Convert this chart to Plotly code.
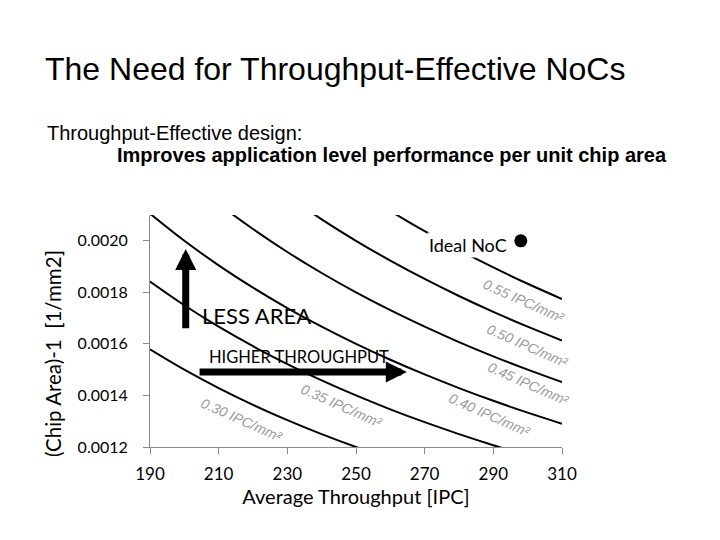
import plotly.graph_objects as go

# ---- data ----
x_grid = [190, 200, 210, 220, 230, 240, 250, 260, 270, 280, 290, 300, 310]
levels = ["0.30", "0.35", "0.40", "0.45", "0.50", "0.55"]
curve_030 = [0.0015789, 0.0015000, 0.0014286, 0.0013636, 0.0013043, 0.0012500, 0.0012000, 0.0011538, None, None, None, None, None]
curve_035 = [0.0018421, 0.0017500, 0.0016667, 0.0015909, 0.0015217, 0.0014583, 0.0014000, 0.0013462, 0.0012963, 0.0012500, 0.0012069, 0.0011667, None]
curve_040 = [0.0021053, 0.0020000, 0.0019048, 0.0018182, 0.0017391, 0.0016667, 0.0016000, 0.0015385, 0.0014815, 0.0014286, 0.0013793, 0.0013333, 0.0012903]
curve_045 = [0.0023684, 0.0022500, 0.0021429, 0.0020455, 0.0019565, 0.0018750, 0.0018000, 0.0017308, 0.0016667, 0.0016071, 0.0015517, 0.0015000, 0.0014516]
curve_050 = [0.0026316, 0.0025000, 0.0023810, 0.0022727, 0.0021739, 0.0020833, 0.0020000, 0.0019231, 0.0018519, 0.0017857, 0.0017241, 0.0016667, 0.0016129]
curve_055 = [0.0028947, 0.0027500, 0.0026190, 0.0025000, 0.0023913, 0.0022917, 0.0022000, 0.0021154, 0.0020370, 0.0019643, 0.0018966, 0.0018333, 0.0017742]
curves = [curve_030, curve_035, curve_040, curve_045, curve_050, curve_055]

# label positions for each iso-line (x, y)
label_x = [216.8, 245.9, 289.0, 300.4, 300.1, 298.9]
label_y = [0.001304, 0.001359, 0.001324, 0.001445, 0.001593, 0.001765]

ideal_x = [298]
ideal_y = [0.0020]

x_ticks = [190, 210, 230, 250, 270, 290, 310]
y_ticks = [0.0012, 0.0014, 0.0016, 0.0018, 0.0020]
y_tick_text = ["0.0012", "0.0014", "0.0016", "0.0018", "0.0020"]

# ---- layout geometry (page has an 8px body offset) ----
OFF = 8
W, H = 720, 540
PW, PH = 412, 232
L, T = 150 - OFF, 215 - OFF
R, B = W - L - PW, H - T - PH

def px(xp):
    return (xp - OFF - L) / PW

def py(yp):
    return (T + PH - (yp - OFF)) / PH

fig = go.Figure()
for c in curves:
    fig.add_trace(go.Scatter(x=x_grid, y=c, mode="lines", line=dict(color="black", width=2, shape="spline"),
                             hoverinfo="skip", showlegend=False, connectgaps=False))

fig.add_trace(go.Scatter(x=ideal_x, y=ideal_y, mode="markers", marker=dict(color="black", size=13),
                         showlegend=False))

ann = []
for lx, ly, lv in zip(label_x, label_y, levels):
    ann.append(dict(x=lx, y=ly, xref="x", yref="y", text=f"{lv} IPC/mm²", showarrow=False,
                    textangle=24, font=dict(family="Liberation Sans", size=14, color="#999999", style="italic"),
                    xanchor="center", yanchor="middle"))

ann.append(dict(x=270.7, y=0.001983, xref="x", yref="y", text="Ideal NoC", showarrow=False,
                xanchor="left", yanchor="middle", bgcolor="white",
                font=dict(family="Lato", size=18, color="black")))
ann.append(dict(x=204.6, y=0.001712, xref="x", yref="y", text="LESS AREA", showarrow=False,
                xanchor="left", yanchor="middle", font=dict(family="Lato", size=22, color="black")))
ann.append(dict(x=206.5, y=0.001548, xref="x", yref="y", text="HIGHER THROUGHPUT", showarrow=False,
                xanchor="left", yanchor="middle", font=dict(family="Lato", size=16.5, color="black")))

# arrows
ann.append(dict(x=264.8, y=0.001491, ax=204.0, ay=0.001491, xref="x", yref="y", axref="x", ayref="y",
                text="", showarrow=True, arrowhead=2, arrowsize=0.6, arrowwidth=7, arrowcolor="black"))
ann.append(dict(x=200.4, y=0.001968, ax=200.4, ay=0.001655, xref="x", yref="y", axref="x", ayref="y",
                text="", showarrow=True, arrowhead=2, arrowsize=0.6, arrowwidth=7, arrowcolor="black"))

# titles
ann.append(dict(x=px(43), y=py(69), xref="paper", yref="paper", text="The Need for Throughput-Effective NoCs",
                showarrow=False, xanchor="left", yanchor="middle",
                font=dict(family="Liberation Sans", size=32, color="black")))
ann.append(dict(x=px(45), y=py(133), xref="paper", yref="paper", text="Throughput-Effective design:",
                showarrow=False, xanchor="left", yanchor="middle",
                font=dict(family="Liberation Sans", size=20, color="black")))
ann.append(dict(x=px(115), y=py(155), xref="paper", yref="paper",
                text="<b>Improves application level performance per unit chip area</b>",
                showarrow=False, xanchor="left", yanchor="middle",
                font=dict(family="Liberation Sans", size=20, color="black")))

# y-axis title (placed lower than plot centre, as in the reference)
ann.append(dict(x=px(53), y=py(354), xref="paper", yref="paper", text="(Chip Area)-1  [1/mm2]",
                showarrow=False, xanchor="center", yanchor="middle", textangle=-90,
                font=dict(family="Lato", size=20.5, color="black")))

fig.update_layout(
    width=W, height=H, margin=dict(l=L, r=R, t=T, b=B),
    paper_bgcolor="white", plot_bgcolor="white", showlegend=False,
    annotations=ann,
    xaxis=dict(range=[190, 310], tickvals=x_ticks, showgrid=False, zeroline=False,
               showline=True, linecolor="#8a8a8a", linewidth=1, ticks="outside", ticklen=6, tickcolor="#8a8a8a",
               tickfont=dict(family="Lato", size=17, color="black"), ticklabelstandoff=6,
               title=dict(text="Average Throughput [IPC]", font=dict(family="Lato", size=20, color="black"), standoff=4)),
    yaxis=dict(range=[0.0012, 0.0021], tickvals=y_ticks, ticktext=y_tick_text, showgrid=False, zeroline=False,
               showline=True, linecolor="#8a8a8a", linewidth=1, ticks="outside", ticklen=6, tickcolor="#8a8a8a",
               tickfont=dict(family="Lato", size=16, color="black"), ticklabelstandoff=12),
)

fig.write_html("out.html")
